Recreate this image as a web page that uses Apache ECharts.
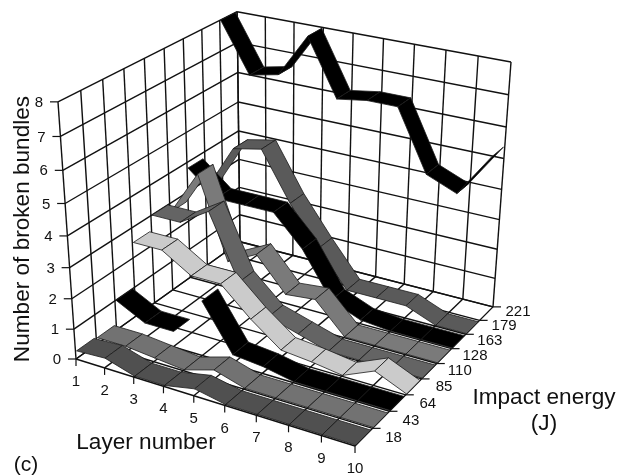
<!DOCTYPE html>
<html>
<head>
<meta charset="utf-8">
<style>html,body{margin:0;padding:0;background:#fff}#c{width:620px;height:476px}</style>
<script src="https://cdn.jsdelivr.net/npm/echarts@6/dist/echarts.min.js"></script>
</head>
<body>
<div id="c"></div>
<script>
const layers = [1,2,3,4,5,6,7,8,9,10];
const energies = [18,43,64,85,110,128,163,179,221];
const valueTicks = [0,1,2,3,4,5,6,7,8];
const bundles18  = [0.25,0.3,0,0,0.2,0,0,0,0,0];
const bundles43  = [0.2,0.2,0.1,0,0.3,0,0,0,0,0];
const bundles64  = [1,0.5,0.5,1.8,0.3,0.2,0,0,0,0];
const bundles85  = [2.5,2.5,1.9,1.9,1,0.25,0.15,0,0.45,0];
const bundles110 = [3,3,3.6,1.5,0.6,0.3,0,0,0,0];
const bundles128 = [2.7,4.2,1.5,2,0.9,1,0,0,0,0];
const bundles163 = [3.8,3,3,3,2,0.5,0.1,0,0,0];
const bundles179 = [2.7,4.3,4.5,2.9,1.6,0.4,0.4,0.4,0,0];
const bundles221 = [8,6.4,6.6,8,6.2,6.35,6.35,4.4,4,5.4];
const seriesValues = [bundles18,bundles43,bundles64,bundles85,bundles110,bundles128,bundles163,bundles179,bundles221];
const seriesColors = ['#505050','#727272','#000000','#cbcbcb','#646464','#7a7a7a','#000000','#5a5a5a','#000000'];
// segments with no ribbon drawn in the source: series index -> segment starting at that layer index
const missingSegments = {2:[2]};

// perspective camera for the 3D box (u along layers, v along energies, w up)
const CAM = {g:[-0.0868,0.1501,-0.082], ax:[76,248.2,200,-22.76], ay:[359,48.3,-81,-265.5]};
function project(u,v,w){
  const d = 1+CAM.g[0]*u+CAM.g[1]*v+CAM.g[2]*w;
  return [(CAM.ax[0]+CAM.ax[1]*u+CAM.ax[2]*v+CAM.ax[3]*w)/d,
          (CAM.ay[0]+CAM.ay[1]*u+CAM.ay[2]*v+CAM.ay[3]*w)/d];
}
const U = i => i/(layers.length-1);
const W = val => val/valueTicks[valueTicks.length-1];
const nBands = energies.length;
const RIBBON_FRONT = 0.05, RIBBON_BACK = 0.9;
const INK = '#111111';
const FONT = '"Liberation Sans", Arial, sans-serif';

function line(api,a,b,w){
  const p=api.coord(a), q=api.coord(b);
  return {type:'line',shape:{x1:p[0],y1:p[1],x2:q[0],y2:q[1]},style:{stroke:INK,lineWidth:w||1.4,fill:null}};
}
function text(api,pos,str,size,extra){
  const p=api.coord(pos);
  return Object.assign({type:'text',x:p[0],y:p[1],style:{text:str,font:size+'px '+FONT,fill:'#111',align:'center',verticalAlign:'middle'}},extra||{});
}
function frameItem(params,api){
  const c=[];
  // floor and walls
  for(let i=0;i<layers.length;i++){
    const u=U(i);
    c.push(line(api,project(u,0,0),project(u,1,0)));
    c.push(line(api,project(u,1,0),project(u,1,1)));
    const a=project(u,0,0);
    c.push(line(api,a,[a[0],a[1]+7],1.2));
  }
  for(let k=0;k<=nBands;k++){
    const v=k/nBands;
    c.push(line(api,project(0,v,0),project(1,v,0)));
    c.push(line(api,project(0,v,0),project(0,v,1)));
    const a=project(1,v,0);
    if(k>0) c.push(line(api,a,[a[0]+8,a[1]],1.2));
  }
  valueTicks.forEach(t=>{
    const w=W(t);
    const a=project(0,0,w), b=project(0,1,w), d=project(1,1,w);
    c.push(line(api,a,b)); c.push(line(api,b,d));
    c.push(line(api,a,[a[0]-8,a[1]],1.2));
    c.push(text(api,[a[0]-19,a[1]+1],String(t),15));
  });
  layers.forEach((l,i)=>{
    const a=project(U(i),0,0);
    c.push(text(api,[a[0],a[1]+23],String(l),15));
  });
  energies.forEach((e,k)=>{
    const a=project(1,(k+1)/nBands,0);
    c.push(text(api,[a[0]+21+k*0.5,a[1]+10-k*0.6],String(e),15));
  });
  c.push(text(api,[23,229],'Number of broken bundles',22.6,{rotation:Math.PI/2}));
  c.push(text(api,[146,443],'Layer number',22.6));
  c.push(text(api,[544,398],'Impact energy',22.6));
  c.push(text(api,[544,424],'(J)',22.6));
  c.push(text(api,[26,465],'(c)',21));
  return {type:'group',children:c};
}
function ribbonItem(sIdx){
  return function(params,api){
    const i=api.value(0), v0=api.value(1), v1=api.value(2);
    if((missingSegments[sIdx]||[]).indexOf(i)>=0) return null;
    const vf=(sIdx+RIBBON_FRONT)/nBands, vb=(sIdx+RIBBON_BACK)/nBands;
    const pts=[project(U(i),vf,W(v0)),project(U(i+1),vf,W(v1)),project(U(i+1),vb,W(v1)),project(U(i),vb,W(v0))].map(p=>api.coord(p));
    return {type:'polygon',shape:{points:pts},style:{fill:seriesColors[sIdx],stroke:'#1c1c1c',lineWidth:0.8}};
  };
}
const series=[{type:'custom',name:'frame',silent:true,clip:false,data:[[0]],renderItem:frameItem,z:1}];
for(let s=nBands-1;s>=0;s--){
  const vals=seriesValues[s], data=[];
  for(let i=0;i<vals.length-1;i++) data.push([i,vals[i],vals[i+1]]);
  series.push({type:'custom',name:energies[s]+' J',silent:true,clip:false,data:data,renderItem:ribbonItem(s),z:2});
}
const chart=echarts.init(document.getElementById('c'),null,{width:620,height:476});
chart.setOption({
  animation:false,
  backgroundColor:'#fff',
  grid:{left:0,right:0,top:0,bottom:0},
  xAxis:{type:'value',min:0,max:620,show:false},
  yAxis:{type:'value',min:0,max:476,inverse:true,show:false},
  series:series
});
</script>
</body>
</html>
